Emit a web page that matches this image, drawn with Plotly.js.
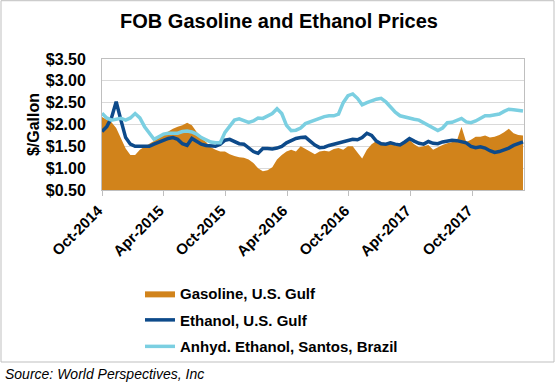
<!DOCTYPE html>
<html>
<head>
<meta charset="utf-8">
<script src="https://cdn.plot.ly/plotly-3.0.1.min.js"></script>
<style>html,body{margin:0;padding:0;background:#fff;}#chart{width:558px;height:387px;}</style>
</head>
<body>
<div id="chart"></div>
<script>
// Biweekly observations starting Oct 1, 2014
const startDate = '2014-10-01';
const stepDays = 14;

const gasolineUSGulf = [
  2.17, 2.10, 2.05, 1.92, 1.70, 1.45, 1.30, 1.30, 1.42, 1.50,
  1.56, 1.62, 1.70, 1.78, 1.84, 1.90, 1.95, 1.98, 2.04, 1.98,
  1.82, 1.68, 1.60, 1.48, 1.42, 1.38, 1.38, 1.32, 1.28, 1.25,
  1.24, 1.20, 1.12, 1.00, 0.93, 0.95, 1.02, 1.20, 1.30, 1.38,
  1.42, 1.38, 1.50, 1.44, 1.38, 1.32, 1.38, 1.40, 1.38, 1.44,
  1.46, 1.42, 1.50, 1.50, 1.36, 1.22, 1.42, 1.55, 1.62, 1.60,
  1.57, 1.62, 1.52, 1.53, 1.60, 1.65, 1.55, 1.48, 1.50, 1.53,
  1.42, 1.48, 1.53, 1.57, 1.59, 1.62, 1.95, 1.60, 1.65, 1.72,
  1.72, 1.75, 1.70, 1.72, 1.76, 1.82, 1.90, 1.80, 1.76, 1.75
];

const ethanolUSGulf = [
  1.84, 1.95, 2.15, 2.52, 2.10, 1.70, 1.55, 1.50, 1.50, 1.50,
  1.50, 1.55, 1.60, 1.64, 1.68, 1.70, 1.66, 1.56, 1.52, 1.68,
  1.62, 1.55, 1.52, 1.50, 1.50, 1.55, 1.64, 1.66, 1.60, 1.56,
  1.55, 1.46, 1.38, 1.34, 1.45, 1.45, 1.44, 1.46, 1.50, 1.58,
  1.63, 1.68, 1.70, 1.71, 1.62, 1.53, 1.47, 1.48, 1.52, 1.55,
  1.58, 1.60, 1.65, 1.66, 1.65, 1.70, 1.80, 1.75, 1.62, 1.56,
  1.55, 1.58, 1.55, 1.53, 1.60, 1.68, 1.62, 1.57, 1.55, 1.61,
  1.57, 1.56, 1.60, 1.62, 1.64, 1.63, 1.61, 1.58, 1.50, 1.47,
  1.49, 1.46, 1.40, 1.36, 1.38, 1.41, 1.46, 1.52, 1.56, 1.60
];

const anhydEthanolSantos = [
  2.26, 2.15, 2.10, 2.12, 2.14, 2.10, 2.15, 2.25, 2.15, 1.95,
  1.80, 1.66, 1.72, 1.78, 1.80, 1.80, 1.80, 1.84, 1.85, 1.83,
  1.78, 1.70, 1.64, 1.60, 1.58, 1.58, 1.82, 1.95, 2.10, 2.13,
  2.08, 2.05, 2.08, 2.15, 2.14, 2.20, 2.25, 2.36, 2.25, 1.98,
  1.86, 1.87, 1.92, 2.02, 2.06, 2.10, 2.15, 2.18, 2.20, 2.20,
  2.24, 2.50, 2.66, 2.70, 2.60, 2.45, 2.50, 2.55, 2.58, 2.60,
  2.52, 2.40, 2.28, 2.20, 2.17, 2.13, 2.12, 2.10, 2.04, 1.98,
  1.92, 1.86, 1.92, 2.04, 2.05, 2.10, 2.14, 2.06, 2.04, 2.08,
  2.15, 2.20, 2.20, 2.21, 2.24, 2.30, 2.35, 2.34, 2.32, 2.31
];

const seriesNames = ['Gasoline, U.S. Gulf', 'Ethanol, U.S. Gulf', 'Anhyd. Ethanol, Santos, Brazil'];
const xTickStart = '2014-10-01';
const xRange = ['2014-10-01', '2018-03-03'];
const yTickVals = [0.5, 1.0, 1.5, 2.0, 2.5, 3.0, 3.5];

function buildDates(n) {
  const out = [];
  const d0 = new Date(startDate + 'T00:00:00Z');
  for (let i = 0; i < n; i++) {
    const d = new Date(d0.getTime() + i * stepDays * 86400000);
    out.push(d.toISOString().slice(0, 10));
  }
  return out;
}
const dates = buildDates(gasolineUSGulf.length);

const FONT = 'Liberation Sans, Arial, sans-serif';

const traces = [
  {
    x: dates, y: gasolineUSGulf, name: seriesNames[0], type: 'scatter', mode: 'lines',
    fill: 'tozeroy', fillcolor: '#D1831B', line: {color: '#D1831B', width: 0},
    legendgroup: 'g1'
  },
  {
    x: dates, y: ethanolUSGulf, name: seriesNames[1], type: 'scatter', mode: 'lines',
    line: {color: '#0D4A8A', width: 3.5}, legendgroup: 'g2'
  },
  {
    x: dates, y: anhydEthanolSantos, name: seriesNames[2], type: 'scatter', mode: 'lines',
    line: {color: '#7BCFE1', width: 3.5}, legendgroup: 'g3'
  }
];

const layout = {
  width: 558, height: 387,
  margin: {l: 102, r: 34, t: 59, b: 197},
  paper_bgcolor: '#ffffff', plot_bgcolor: '#ffffff',
  font: {family: FONT, color: '#000000'},
  showlegend: true,
  title: {
    text: 'FOB Gasoline and Ethanol Prices',
    font: {family: FONT, size: 20, weight: 'bold', color: '#000'},
    x: 0.5, xref: 'container', y: 0.945, yref: 'container', yanchor: 'middle'
  },
  xaxis: {
    type: 'date', range: xRange, tick0: xTickStart, dtick: 'M6', tickformat: '%b-%Y',
    tickangle: -45, tickfont: {family: FONT, size: 15, weight: 'bold', color: '#000'},
    ticklabelshift: -4,
    ticks: 'outside', ticklen: 5, tickcolor: '#bfbfbf',
    showgrid: false, showline: true, linecolor: '#bfbfbf', linewidth: 1, mirror: true,
    zeroline: false
  },
  yaxis: {
    range: [0.5, 3.5], tickvals: yTickVals, tickformat: '$.2f',
    tickfont: {family: FONT, size: 16, weight: 'bold', color: '#000'},
    showgrid: true, gridcolor: '#d9d9d9', gridwidth: 1,
    showline: true, linecolor: '#bfbfbf', linewidth: 1, mirror: true,
    zeroline: false, ticks: '', ticklabelstandoff: 12,
    title: {text: '$/Gallon', font: {family: FONT, size: 16, weight: 'bold', color: '#000'}, standoff: 2}
  },
  legend: {
    x: 0.090, xanchor: 'left', y: -0.665, yanchor: 'top',
    font: {family: FONT, size: 15, weight: 'bold', color: '#000'},
    tracegroupgap: 4, traceorder: 'grouped', bgcolor: 'rgba(0,0,0,0)'
  },
  shapes: [
    {type: 'rect', xref: 'paper', yref: 'paper', x0: -0.2393, x1: 1.0711, y0: -1.313, y1: 1.445,
     line: {color: '#bfbfbf', width: 1}, fillcolor: 'rgba(0,0,0,0)', layer: 'below'}
  ],
  annotations: [
    {text: '<i>Source: World Perspectives, Inc</i>', xref: 'paper', yref: 'paper',
     x: -0.2346, y: -1.405, xanchor: 'left', yanchor: 'middle', showarrow: false,
     font: {family: FONT, size: 14, color: '#000'}}
  ]
};

Plotly.newPlot('chart', traces, layout, {displayModeBar: false, staticPlot: true});
</script>
</body>
</html>
